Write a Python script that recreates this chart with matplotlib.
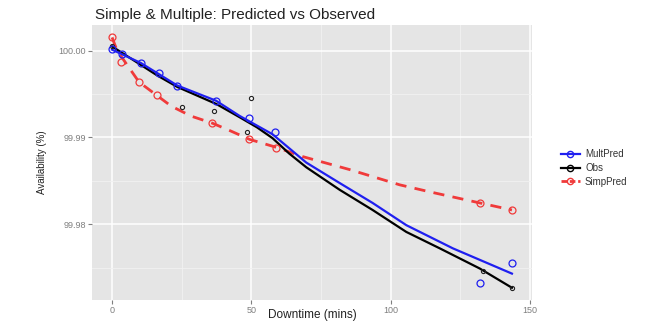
import matplotlib
matplotlib.use("Agg")
import matplotlib.pyplot as plt
from matplotlib.lines import Line2D
from matplotlib.ticker import FixedLocator

plt.rcParams['font.family'] = ['Liberation Sans', 'DejaVu Sans']

# Observed points / predicted points
mult_x = [0, 3.6, 10.3, 16.9, 23.4, 37.3, 49.3, 58.3, 132.0, 143.5]
mult_y = [100.0002, 99.9996, 99.99857, 99.9974, 99.99597, 99.99422, 99.99221, 99.99058, 99.97320, 99.97550]

obs_x = [0, 25.2, 36.7, 48.6, 49.9, 133.1, 143.5]
obs_y = [100.0005, 99.99352, 99.99299, 99.99066, 99.99453, 99.97465, 99.97267]

simp_x = [0, 3.1, 9.7, 16.2, 36.0, 49.3, 58.9, 132.0, 143.5]
simp_y = [100.00151, 99.99869, 99.99636, 99.99492, 99.99163, 99.98977, 99.98880, 99.98244, 99.98163]

# Smoothed curves
mult_cx = [0, 10.3, 23.4, 37.3, 45.7, 57.6, 69.7, 81.7, 93.5, 105.6, 122.3, 143.5]
mult_cy = [100.0001, 99.99857, 99.99597, 99.99422, 99.99248, 99.99035, 99.98709, 99.98473, 99.98244, 99.97988, 99.97721, 99.97430]

obs_cx = [0, 16.2, 23.4, 37.4, 45.7, 52.0, 57.6, 63.5, 69.7, 81.7, 93.5, 105.6, 117.6, 132.0, 143.5]
obs_cy = [100.00047, 99.99713, 99.99581, 99.99384, 99.99233, 99.99115, 99.98990, 99.98815, 99.98655, 99.98395, 99.98163, 99.97910, 99.97721, 99.97488, 99.97267]

simp_cx = [0, 1.8, 9.7, 14.4, 21.2, 28.4, 36.0, 42.8, 49.3, 59.0, 68.3, 85.3, 103.2, 114.0, 132.0, 143.5]
simp_cy = [100.00151, 100.0000, 99.99636, 99.99523, 99.99360, 99.99244, 99.99163, 99.99070, 99.98977, 99.98884, 99.98779, 99.98628, 99.98453, 99.98372, 99.98244, 99.98163]

xticks = [0, 50, 100, 150]
yticks = [99.98, 99.99, 100.00]
ytick_labels = ["99.98", "99.99", "100.00"]

fig = plt.figure(figsize=(6.67, 3.25), dpi=100)
ax = fig.add_axes([92/667, 1-300/325, (532-92)/667, (300-25)/325])
ax.set_facecolor('#E5E5E5')
for s in ax.spines.values():
    s.set_visible(False)

ax.set_xlim(-7.2, 150.7)
ax.set_ylim(99.97126, 100.00294)
ax.xaxis.set_major_locator(FixedLocator(xticks))
ax.xaxis.set_minor_locator(FixedLocator([25, 75, 125]))
ax.yaxis.set_major_locator(FixedLocator(yticks))
ax.yaxis.set_minor_locator(FixedLocator([99.975, 99.985, 99.995]))
ax.set_yticklabels(ytick_labels)
ax.grid(which='major', color='white', lw=1.1)
ax.grid(which='minor', color='#F2F2F2', lw=0.6)
ax.set_axisbelow(True)
ax.tick_params(which='major', colors='#7F7F7F', labelsize=6.5, length=3, width=0.8,
               labelcolor='#7F7F7F', pad=1.5)
ax.tick_params(which='minor', length=0)

blue = '#1F1FF0'
red = '#F03A3A'
ax.plot(simp_cx, simp_cy, color=red, lw=2.0, ls=(0, (4, 3)), zorder=2)
ax.plot(obs_cx, obs_cy, color='black', lw=1.6, zorder=3)
ax.plot(mult_cx, mult_cy, color=blue, lw=1.6, zorder=4)

ax.plot(simp_x, simp_y, 'o', mfc='none', mec=red, ms=5, mew=0.9, zorder=5)
ax.plot(obs_x, obs_y, 'o', mfc='none', mec='#222222', ms=3, mew=0.8, zorder=5)
ax.plot(mult_x, mult_y, 'o', mfc='none', mec=blue, ms=5, mew=0.9, zorder=6)

fig.text(312/667, 1-315/325, 'Downtime (mins)', fontsize=8.5, color='#222222',
         ha='center', va='center')
ax.set_ylabel('Availability (%)', fontsize=7, color='#222222', labelpad=8)
fig.text(95/667, 1-15/325, 'Simple & Multiple: Predicted vs Observed', fontsize=11,
         color='#222222', ha='left', va='center')

handles = [
    Line2D([], [], color=blue, lw=1.6, marker='o', mfc='none', mec=blue, ms=4.5),
    Line2D([], [], color='black', lw=1.6, marker='o', mfc='none', mec='black', ms=4.5),
    Line2D([], [], color=red, lw=2.0, ls=(0, (2, 1)), marker='o', mfc='none', mec=red, ms=4.5),
]
fig.legend(handles, ['MultPred', 'Obs', 'SimpPred'], loc='center left',
           bbox_to_anchor=(552/667, 1-168/325), frameon=False, fontsize=7,
           handlelength=2.0, handletextpad=0.5, labelspacing=0.4, labelcolor='#333333')

fig.savefig('out.png', dpi=100)
